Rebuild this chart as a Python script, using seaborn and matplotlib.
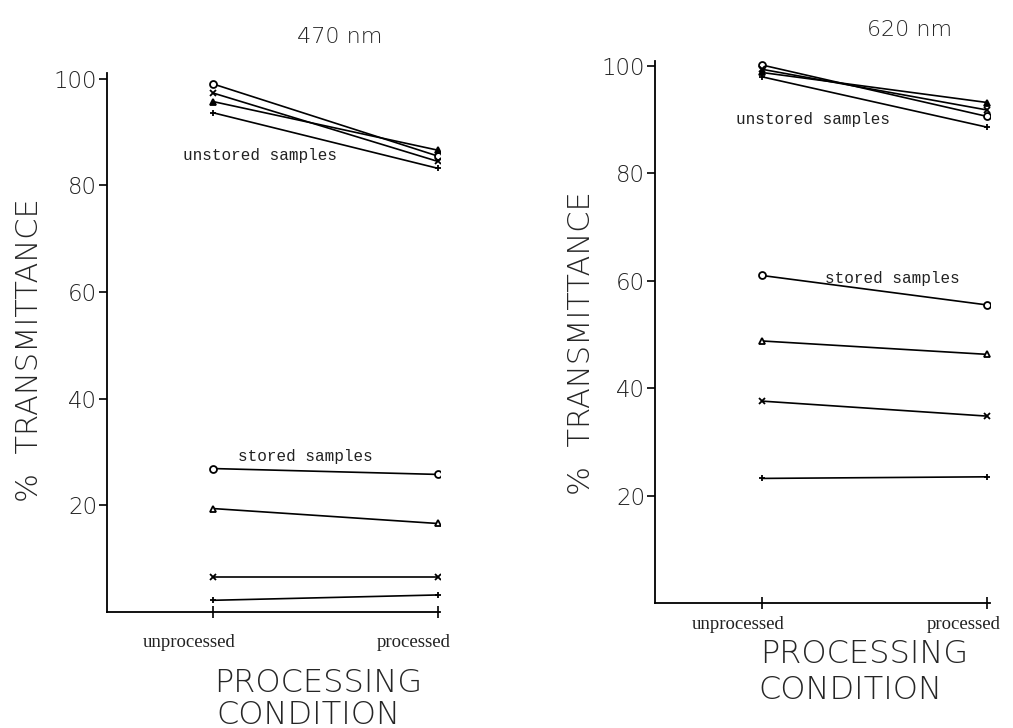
import matplotlib
matplotlib.use("Agg")
import matplotlib.pyplot as plt
import matplotlib.transforms as mtransforms
import seaborn as sns

sns.set_theme(style="white")
plt.rcParams['font.family'] = ['DejaVu Sans']

conditions = ["unprocessed", "processed"]
markers = ["o", "x", "^", "+"]

unstored_470 = [[99.0, 85.5], [97.3, 84.5], [95.7, 86.6], [93.6, 83.2]]
stored_470 = [[26.9, 25.8], [6.5, 6.5], [19.4, 16.6], [2.2, 3.2]]

unstored_620 = [[100.2, 90.6], [99.4, 91.8], [98.8, 93.2], [98.0, 88.6]]
stored_620 = [[61.0, 55.5], [37.6, 34.8], [48.8, 46.3], [23.2, 23.5]]

yticks = [20, 40, 60, 80, 100]

fig = plt.figure(figsize=(10.13, 7.28), dpi=100)
axL = fig.add_axes([0.1056, 0.1593, 0.329, 0.740])
axR = fig.add_axes([0.6466, 0.1717, 0.3307, 0.745])

def draw(ax, unstored, stored, xpad):
    for grp, filled in ((unstored, True), (stored, False)):
        for vals, m in zip(grp, markers):
            kw = dict(markersize=5, markeredgewidth=1.3, markeredgecolor="black")
            if m in ("o", "^"):
                kw["markerfacecolor"] = "black" if (filled and m == "^") else "white"
            sns.lineplot(x=conditions, y=vals, ax=ax, color="black", linewidth=1.2,
                         marker=m, sort=False, legend=False, **kw)
    ax.set_xlim(-0.473, 1.012)
    ax.set_ylim(0, 101)
    ax.set_yticks(yticks)
    ax.set_yticklabels([str(t) for t in yticks], fontsize=16.5, color="#222222",
                       fontweight="light")
    ax.set_xticks([0, 1])
    ax.set_xticklabels(conditions, fontfamily="Liberation Serif", fontsize=13.5,
                       color="#222222")
    ax.set_xlabel("")
    ax.set_ylabel("")
    for s in ("top", "right"):
        ax.spines[s].set_visible(False)
    for s in ("left", "bottom"):
        ax.spines[s].set_color("black")
        ax.spines[s].set_linewidth(1.3)
    ax.tick_params(axis="y", left=True, direction="out", length=6, width=1.2,
                   color="black", pad=1)
    ax.tick_params(axis="x", bottom=True, direction="inout", length=8, width=1.2,
                   color="black", pad=xpad)
    ax.set_facecolor("white")
    for lbl in ax.get_xticklabels():
        lbl.set_transform(lbl.get_transform() +
                          mtransforms.ScaledTranslation(-0.24, 0, fig.dpi_scale_trans))

draw(axL, unstored_470, stored_470, 12)
draw(axR, unstored_620, stored_620, 5)

mono = "Liberation Mono"
axL.text(0.21, 85.6, "unstored samples", fontfamily=mono, fontsize=11.5,
         ha="center", va="center", color="#222222")
axL.text(0.41, 29.2, "stored samples", fontfamily=mono, fontsize=11.5,
         ha="center", va="center", color="#222222")
axR.text(0.226, 90.0, "unstored samples", fontfamily=mono, fontsize=11.5,
         ha="center", va="center", color="#222222")
axR.text(0.58, 60.5, "stored samples", fontfamily=mono, fontsize=11.5,
         ha="center", va="center", color="#222222")

fig.text(340/1013, 1 - 37/728, "470 nm", fontsize=16, ha="center", va="center",
         fontweight="light")
fig.text(910/1013, 1 - 30/728, "620 nm", fontsize=16, ha="center", va="center",
         fontweight="light")

fig.text(30/1013, 1 - 350/728, "%  TRANSMITTANCE", rotation=90, fontsize=22,
         ha="center", va="center", fontweight="light")
fig.text(582/1013, 1 - 343/728, "%  TRANSMITTANCE", rotation=90, fontsize=22,
         ha="center", va="center", fontweight="light")

fig.text(214/1013, 1 - 683/728, "PROCESSING", fontsize=23, ha="left", va="center",
         fontweight="light")
fig.text(216/1013, 1 - 715/728, "CONDITION", fontsize=23, ha="left", va="center",
         fontweight="light")
fig.text(760/1013, 1 - 654/728, "PROCESSING", fontsize=23, ha="left", va="center",
         fontweight="light")
fig.text(758/1013, 1 - 690/728, "CONDITION", fontsize=23, ha="left", va="center",
         fontweight="light")

fig.savefig("out.png", dpi=100, facecolor="white")
